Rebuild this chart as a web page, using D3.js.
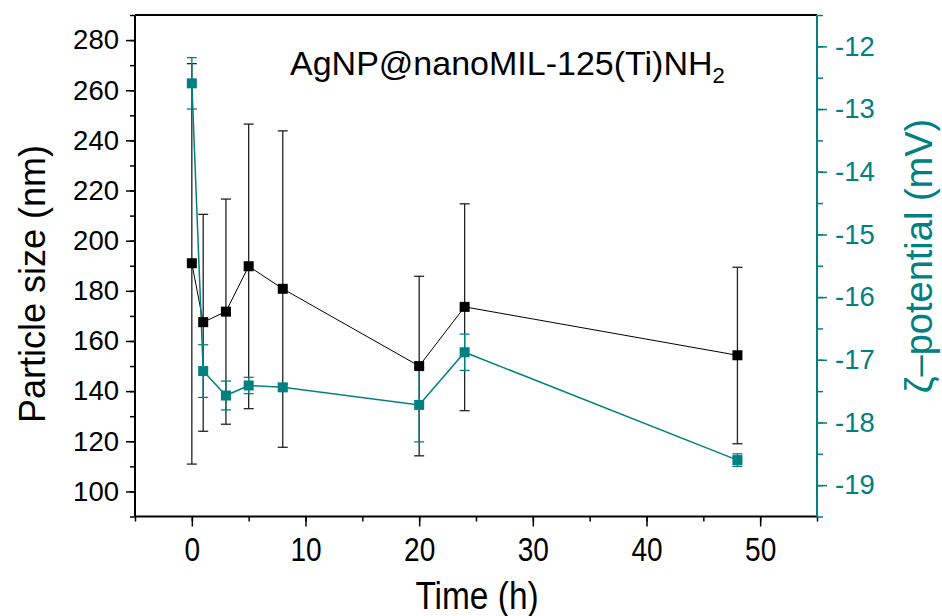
<!DOCTYPE html>
<html>
<head>
<meta charset="utf-8">
<script src="https://cdn.jsdelivr.net/npm/d3@7"></script>
<style>
  body { margin: 0; background: #fff; }
  text { font-family: "Liberation Sans", Arial, sans-serif; }
</style>
</head>
<body>
<svg id="chart" width="942" height="616"></svg>
<script>
// time points (h)
const times = [0, 1, 3, 5, 8, 20, 24, 48];
// particle size (nm) with error bars
const sizeMean = [191, 167.5, 171.7, 189.8, 180.8, 150, 173.6, 154.3];
const sizeLow  = [110.9, 124, 126.8, 133, 117.6, 114.2, 132.2, 119];
const sizeHigh = [270.6, 210.5, 216.6, 246.5, 243.8, 185.8, 214.7, 189.4];
// zeta potential (mV) with error
const zetaMean = [-12.59, -17.18, -17.57, -17.41, -17.44, -17.72, -16.88, -18.6];
const zetaErr  = [0.41, 0.42, 0.23, 0.13, 0.05, 0.59, 0.29, 0.1];

const xTicks = [0, 10, 20, 30, 40, 50];
const sizeTicks = [100, 120, 140, 160, 180, 200, 220, 240, 260, 280];
const zetaTicks = [-19, -18, -17, -16, -15, -14, -13, -12];

const teal = "#008080";

const svg = d3.select("#chart");
const pLeft = 135, pRight = 817, pTop = 15, pBottom = 516.5;

const x = d3.scaleLinear().domain([-5, 55]).range([pLeft, pRight]);
const yS = d3.scaleLinear().domain([90, 290]).range([pBottom, pTop]);
const yZ = d3.scaleLinear().domain([-19.5, -11.5]).range([pBottom, pTop]);

// frame: top line
svg.append("line")
  .attr("x1", pLeft).attr("x2", pRight).attr("y1", pTop).attr("y2", pTop)
  .attr("stroke", "#000").attr("stroke-width", 2);

// bottom axis
const gx = svg.append("g").attr("transform", `translate(0,${pBottom})`);
gx.call(d3.axisBottom(x).tickValues(d3.range(-5, 56, 5)).tickSize(5).tickFormat(""))
  .call(g => g.select(".domain").remove());
gx.selectAll("line").attr("stroke-width", 1.5);
const gx2 = svg.append("g").attr("transform", `translate(0,${pBottom})`);
gx2.call(d3.axisBottom(x).tickValues(xTicks).tickSize(10).tickPadding(11))
  .call(g => g.select(".domain").remove());
gx2.selectAll("line").attr("stroke-width", 1.5);
gx2.selectAll("text").attr("font-size", 33).attr("fill", "#000")
  .attr("font-family", "Liberation Sans, Arial, sans-serif")
  .attr("transform", "scale(0.85,1)");
svg.append("line")
  .attr("x1", pLeft).attr("x2", pRight).attr("y1", pBottom).attr("y2", pBottom)
  .attr("stroke", "#000").attr("stroke-width", 2);

// left axis
const gl = svg.append("g").attr("transform", `translate(${pLeft},0)`);
gl.call(d3.axisLeft(yS).tickValues(d3.range(90, 291, 10)).tickSize(5).tickFormat(""))
  .call(g => g.select(".domain").remove());
gl.selectAll("line").attr("stroke-width", 1.5);
const gl2 = svg.append("g").attr("transform", `translate(${pLeft},0)`);
gl2.call(d3.axisLeft(yS).tickValues(sizeTicks).tickSize(9).tickPadding(7))
  .call(g => g.select(".domain").remove());
gl2.selectAll("line").attr("stroke-width", 1.5);
gl2.selectAll("text").attr("font-size", 27.5).attr("fill", "#000")
  .attr("font-family", "Liberation Sans, Arial, sans-serif");
svg.append("line")
  .attr("x1", pLeft).attr("x2", pLeft).attr("y1", pTop).attr("y2", pBottom)
  .attr("stroke", "#000").attr("stroke-width", 2);

// right axis (teal)
const gr = svg.append("g").attr("transform", `translate(${pRight},0)`);
gr.call(d3.axisRight(yZ).tickValues(d3.range(-19.5, -11.4, 0.5)).tickSize(6).tickFormat(""))
  .call(g => g.select(".domain").remove());
gr.selectAll("line").attr("stroke", teal).attr("stroke-width", 1.5);
const gr2 = svg.append("g").attr("transform", `translate(${pRight},0)`);
gr2.call(d3.axisRight(yZ).tickValues(zetaTicks).tickSize(10).tickPadding(8))
  .call(g => g.select(".domain").remove());
gr2.selectAll("line").attr("stroke", teal).attr("stroke-width", 1.5);
gr2.selectAll("text").attr("font-size", 27.5).attr("fill", teal)
  .attr("font-family", "Liberation Sans, Arial, sans-serif")
  .text(d => "-" + Math.abs(d));
svg.append("line")
  .attr("x1", pRight).attr("x2", pRight).attr("y1", pTop).attr("y2", pBottom)
  .attr("stroke", teal).attr("stroke-width", 2);

// data tables
const sizeData = times.map((t, i) => ({t: t, v: sizeMean[i], lo: sizeLow[i], hi: sizeHigh[i]}));
const zetaData = times.map((t, i) => ({t: t, v: zetaMean[i], lo: zetaMean[i] - zetaErr[i], hi: zetaMean[i] + zetaErr[i]}));

function errorBars(data, yScale, color, cls) {
  const g = svg.append("g").attr("class", cls);
  g.selectAll("line.stem").data(data).join("line")
    .attr("x1", d => x(d.t)).attr("x2", d => x(d.t))
    .attr("y1", d => yScale(d.lo)).attr("y2", d => yScale(d.hi))
    .attr("stroke", color).attr("stroke-width", 1.3);
  ["lo", "hi"].forEach(k => {
    g.selectAll("line.cap-" + k).data(data).join("line")
      .attr("class", "cap-" + k)
      .attr("x1", d => x(d.t) - 5).attr("x2", d => x(d.t) + 5)
      .attr("y1", d => yScale(d[k])).attr("y2", d => yScale(d[k]))
      .attr("stroke", color).attr("stroke-width", 1.3);
  });
}

errorBars(sizeData, yS, "#222", "size-err");

// size line
svg.append("path").datum(sizeData)
  .attr("fill", "none").attr("stroke", "#000").attr("stroke-width", 1)
  .attr("d", d3.line().x(d => x(d.t)).y(d => yS(d.v)));

errorBars(zetaData, yZ, teal, "zeta-err");

svg.append("path").datum(zetaData)
  .attr("fill", "none").attr("stroke", teal).attr("stroke-width", 1.5)
  .attr("d", d3.line().x(d => x(d.t)).y(d => yZ(d.v)));

svg.append("g").selectAll("rect").data(sizeData).join("rect")
  .attr("x", d => x(d.t) - 5).attr("y", d => yS(d.v) - 5)
  .attr("width", 10).attr("height", 10).attr("fill", "#000");

svg.append("g").selectAll("rect").data(zetaData).join("rect")
  .attr("x", d => x(d.t) - 5).attr("y", d => yZ(d.v) - 5)
  .attr("width", 10).attr("height", 10).attr("fill", teal);

// title
const title = svg.append("text").attr("x", 290).attr("y", 75)
  .attr("font-size", 34).attr("fill", "#000");
title.append("tspan").text("AgNP@nanoMIL-125(Ti)NH");
title.append("tspan").attr("font-size", 22).attr("dy", 8).text("2");

// axis titles
svg.append("text").attr("transform", "translate(477,609) scale(0.88,1)")
  .attr("text-anchor", "middle").attr("font-size", 38).text("Time (h)");
svg.append("text").attr("transform", "translate(45,284) rotate(-90)")
  .attr("text-anchor", "middle").attr("font-size", 36).text("Particle size (nm)");
svg.append("text").attr("transform", "translate(932,256) rotate(-90)")
  .attr("text-anchor", "middle").attr("font-size", 38).attr("fill", teal)
  .text("ζ–potential (mV)");
</script>
</body>
</html>
